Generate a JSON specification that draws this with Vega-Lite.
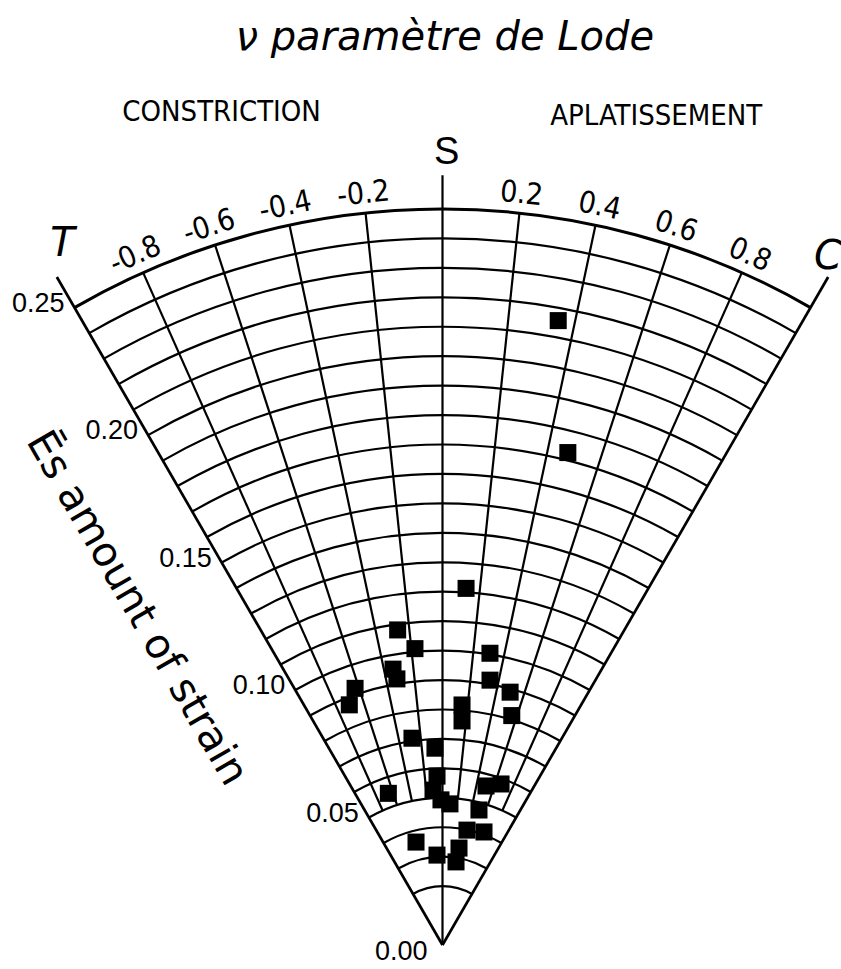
{
  "$schema": "https://vega.github.io/schema/vega-lite/v6.json",
  "width": 841,
  "height": 969,
  "autosize": {"type": "none"},
  "padding": 0,
  "background": "white",
  "config": {"view": {"stroke": null}},
  "datasets": {
    "rings": [
      {"r": 0.02, "nu0": -1, "nu1": 1}, {"r": 0.03, "nu0": -1, "nu1": 1}, {"r": 0.04, "nu0": -1, "nu1": 1},
      {"r": 0.05, "nu0": -1, "nu1": 1}, {"r": 0.06, "nu0": -1, "nu1": 1}, {"r": 0.07, "nu0": -1, "nu1": 1},
      {"r": 0.08, "nu0": -1, "nu1": 1}, {"r": 0.09, "nu0": -1, "nu1": 1}, {"r": 0.10, "nu0": -1, "nu1": 1},
      {"r": 0.11, "nu0": -1, "nu1": 1}, {"r": 0.12, "nu0": -1, "nu1": 1}, {"r": 0.13, "nu0": -1, "nu1": 1},
      {"r": 0.14, "nu0": -1, "nu1": 1}, {"r": 0.15, "nu0": -1, "nu1": 1}, {"r": 0.16, "nu0": -1, "nu1": 1},
      {"r": 0.17, "nu0": -1, "nu1": 1}, {"r": 0.18, "nu0": -1, "nu1": 1}, {"r": 0.19, "nu0": -1, "nu1": 1},
      {"r": 0.20, "nu0": -1, "nu1": 1}, {"r": 0.21, "nu0": -1, "nu1": 1}, {"r": 0.22, "nu0": -1, "nu1": 1},
      {"r": 0.23, "nu0": -1, "nu1": 1}, {"r": 0.24, "nu0": -1, "nu1": 1}, {"r": 0.25, "nu0": -1, "nu1": 1}
    ],
    "spokes": [
      {"nu": -1, "r0": 0, "r1": 0.262},
      {"nu": -0.8, "r0": 0.05, "r1": 0.25},
      {"nu": -0.6, "r0": 0.05, "r1": 0.25},
      {"nu": -0.4, "r0": 0.05, "r1": 0.25},
      {"nu": -0.2, "r0": 0.05, "r1": 0.25},
      {"nu": 0, "r0": 0, "r1": 0.2615},
      {"nu": 0.2, "r0": 0.05, "r1": 0.25},
      {"nu": 0.4, "r0": 0.05, "r1": 0.25},
      {"nu": 0.6, "r0": 0.05, "r1": 0.25},
      {"nu": 0.8, "r0": 0.05, "r1": 0.25},
      {"nu": 1, "r0": 0, "r1": 0.262}
    ],
    "points": [
      {"nu": 0.350, "es": 0.2157}, {"nu": 0.476, "es": 0.1726}, {"nu": 0.126, "es": 0.1214},
      {"nu": -0.270, "es": 0.1081}, {"nu": -0.177, "es": 0.1011}, {"nu": 0.308, "es": 0.1004},
      {"nu": -0.339, "es": 0.0952}, {"nu": -0.324, "es": 0.0917}, {"nu": 0.339, "es": 0.0914},
      {"nu": -0.627, "es": 0.0921}, {"nu": -0.707, "es": 0.0875}, {"nu": 0.499, "es": 0.0889},
      {"nu": 0.560, "es": 0.0814}, {"nu": 0.155, "es": 0.0818}, {"nu": 0.166, "es": 0.0764},
      {"nu": -0.280, "es": 0.0710}, {"nu": -0.073, "es": 0.0669}, {"nu": -0.655, "es": 0.0547},
      {"nu": -0.062, "es": 0.0574}, {"nu": -0.117, "es": 0.0527}, {"nu": -0.020, "es": 0.0493},
      {"nu": 0.101, "es": 0.0480}, {"nu": 0.510, "es": 0.0560}, {"nu": 0.666, "es": 0.0582},
      {"nu": 0.504, "es": 0.0475}, {"nu": 0.401, "es": 0.0399}, {"nu": 0.672, "es": 0.0409},
      {"nu": -0.481, "es": 0.0361}, {"nu": -0.117, "es": 0.0306}, {"nu": 0.308, "es": 0.0286},
      {"nu": 0.322, "es": 0.0334}
    ],
    "nuLabels": [
      {"nu": -0.8, "r": 0.2565, "label": "-0.8"}, {"nu": -0.6, "r": 0.2565, "label": "-0.6"},
      {"nu": -0.4, "r": 0.2565, "label": "-0.4"}, {"nu": -0.2, "r": 0.2565, "label": "-0.2"},
      {"nu": 0.2, "r": 0.2565, "label": "0.2"}, {"nu": 0.4, "r": 0.2565, "label": "0.4"},
      {"nu": 0.6, "r": 0.2565, "label": "0.6"}, {"nu": 0.8, "r": 0.2565, "label": "0.8"}
    ],
    "rLabels": [
      {"nu": -1, "r": 0.25, "label": "0.25"}, {"nu": -1, "r": 0.20, "label": "0.20"},
      {"nu": -1, "r": 0.15, "label": "0.15"}, {"nu": -1, "r": 0.10, "label": "0.10"},
      {"nu": -1, "r": 0.05, "label": "0.05"}
    ],
    "zeroLabel": [{"nu": 0, "r": 0, "label": "0.00"}],
    "titleText": [{"nu": 0.005, "r": 0.3081, "label": "ν paramètre de Lode"}],
    "regimes": [
      {"nu": -0.495, "r": 0.2928, "label": "CONSTRICTION"},
      {"nu": 0.482, "r": 0.2908, "label": "APLATISSEMENT"}
    ],
    "sLabel": [{"nu": 0.01, "r": 0.269, "label": "S"}],
    "ends": [
      {"nu": -0.949, "r": 0.2708, "label": "T"},
      {"nu": 0.975, "r": 0.268, "label": "C"}
    ],
    "strainTitle": [{"nu": -1.41, "r": 0.1545, "label": "Ēs amount of strain"}]
  },
  "layer": [
    {
      "data": {"name": "rings"},
      "mark": {"type": "arc", "filled": false, "stroke": "black"},
      "encoding": {
        "x": {"datum": 0, "type": "quantitative", "scale": {"domain": [-0.150306, 0.13536], "nice": false, "zero": false}, "axis": null},
        "y": {"datum": 0, "type": "quantitative", "scale": {"domain": [-0.008152, 0.320992], "nice": false, "zero": false}, "axis": null},
        "theta": {"field": "nu0", "type": "quantitative", "stack": null, "scale": {"domain": [-1, 1], "range": [-0.5235988, 0.5235988]}},
        "theta2": {"field": "nu1"},
        "radius": {"field": "r", "type": "quantitative", "stack": null, "scale": {"type": "linear", "domain": [0, 0.25], "range": [0, 736], "zero": false, "nice": false}},
        "radius2": {"field": "r"},
        "strokeWidth": {"condition": {"test": "datum.r > 0.249", "value": 3}, "value": 2.2}
      }
    },
    {
      "data": {"name": "spokes"},
      "transform": [
        {"calculate": "datum.r0 * sin(datum.nu * PI / 6)", "as": "xa"},
        {"calculate": "datum.r0 * cos(datum.nu * PI / 6)", "as": "ya"},
        {"calculate": "datum.r1 * sin(datum.nu * PI / 6)", "as": "xb"},
        {"calculate": "datum.r1 * cos(datum.nu * PI / 6)", "as": "yb"}
      ],
      "mark": {"type": "rule", "color": "black"},
      "encoding": {
        "x": {"field": "xa", "type": "quantitative", "scale": {"domain": [-0.150306, 0.13536], "nice": false, "zero": false}, "axis": null},
        "y": {"field": "ya", "type": "quantitative", "scale": {"domain": [-0.008152, 0.320992], "nice": false, "zero": false}, "axis": null},
        "x2": {"field": "xb"},
        "y2": {"field": "yb"},
        "strokeWidth": {"condition": {"test": "abs(datum.nu) == 1", "value": 2.7}, "value": 2.2}
      }
    },
    {
      "data": {"name": "points"},
      "transform": [
        {"calculate": "datum.es * sin(datum.nu * PI / 6)", "as": "px"},
        {"calculate": "datum.es * cos(datum.nu * PI / 6)", "as": "py"}
      ],
      "mark": {"type": "square", "filled": true, "color": "black", "opacity": 1, "size": 290},
      "encoding": {
        "x": {"field": "px", "type": "quantitative", "scale": {"domain": [-0.150306, 0.13536], "nice": false, "zero": false}, "axis": null},
        "y": {"field": "py", "type": "quantitative", "scale": {"domain": [-0.008152, 0.320992], "nice": false, "zero": false}, "axis": null}
      }
    },
    {
      "data": {"name": "nuLabels"},
      "mark": {"type": "text", "font": "Liberation Sans Narrow, DejaVu Sans Condensed, Liberation Sans, sans-serif", "fontSize": 30, "align": "center", "baseline": "middle", "color": "black"},
      "encoding": {
        "x": {"datum": 0, "type": "quantitative", "scale": {"domain": [-0.150306, 0.13536], "nice": false, "zero": false}, "axis": null},
        "y": {"datum": 0, "type": "quantitative", "scale": {"domain": [-0.008152, 0.320992], "nice": false, "zero": false}, "axis": null},
        "theta": {"field": "nu", "type": "quantitative", "stack": null, "scale": {"domain": [-1, 1], "range": [-0.5235988, 0.5235988]}},
        "radius": {"field": "r", "type": "quantitative", "stack": null, "scale": {"type": "linear", "domain": [0, 0.25], "range": [0, 736], "zero": false, "nice": false}},
        "angle": {"field": "nu", "type": "quantitative", "scale": {"domain": [-1, 1], "range": [-30, 30]}, "legend": null},
        "text": {"field": "label"}
      }
    },
    {
      "data": {"name": "rLabels"},
      "mark": {"type": "text", "font": "Liberation Sans, sans-serif", "fontSize": 27, "align": "right", "baseline": "middle", "dx": -10, "dy": -4, "color": "black"},
      "encoding": {
        "x": {"datum": 0, "type": "quantitative", "scale": {"domain": [-0.150306, 0.13536], "nice": false, "zero": false}, "axis": null},
        "y": {"datum": 0, "type": "quantitative", "scale": {"domain": [-0.008152, 0.320992], "nice": false, "zero": false}, "axis": null},
        "theta": {"field": "nu", "type": "quantitative", "stack": null, "scale": {"domain": [-1, 1], "range": [-0.5235988, 0.5235988]}},
        "radius": {"field": "r", "type": "quantitative", "stack": null, "scale": {"type": "linear", "domain": [0, 0.25], "range": [0, 736], "zero": false, "nice": false}},
        "text": {"field": "label"}
      }
    },
    {
      "data": {"name": "zeroLabel"},
      "mark": {"type": "text", "font": "Liberation Sans, sans-serif", "fontSize": 27, "align": "right", "baseline": "middle", "dx": -15, "dy": 7, "color": "black"},
      "encoding": {
        "x": {"datum": 0, "type": "quantitative", "scale": {"domain": [-0.150306, 0.13536], "nice": false, "zero": false}, "axis": null},
        "y": {"datum": 0, "type": "quantitative", "scale": {"domain": [-0.008152, 0.320992], "nice": false, "zero": false}, "axis": null},
        "theta": {"field": "nu", "type": "quantitative", "stack": null, "scale": {"domain": [-1, 1], "range": [-0.5235988, 0.5235988]}},
        "radius": {"field": "r", "type": "quantitative", "stack": null, "scale": {"type": "linear", "domain": [0, 0.25], "range": [0, 736], "zero": false, "nice": false}},
        "text": {"field": "label"}
      }
    },
    {
      "data": {"name": "titleText"},
      "mark": {"type": "text", "font": "DejaVu Sans, sans-serif", "fontStyle": "italic", "fontSize": 40, "align": "center", "baseline": "middle", "color": "black"},
      "encoding": {
        "x": {"datum": 0, "type": "quantitative", "scale": {"domain": [-0.150306, 0.13536], "nice": false, "zero": false}, "axis": null},
        "y": {"datum": 0, "type": "quantitative", "scale": {"domain": [-0.008152, 0.320992], "nice": false, "zero": false}, "axis": null},
        "theta": {"field": "nu", "type": "quantitative", "stack": null, "scale": {"domain": [-1, 1], "range": [-0.5235988, 0.5235988]}},
        "radius": {"field": "r", "type": "quantitative", "stack": null, "scale": {"type": "linear", "domain": [0, 0.25], "range": [0, 736], "zero": false, "nice": false}},
        "text": {"field": "label"}
      }
    },
    {
      "data": {"name": "regimes"},
      "mark": {"type": "text", "font": "Liberation Sans Narrow, DejaVu Sans Condensed, Liberation Sans, sans-serif", "fontSize": 29, "align": "center", "baseline": "middle", "color": "black"},
      "encoding": {
        "x": {"datum": 0, "type": "quantitative", "scale": {"domain": [-0.150306, 0.13536], "nice": false, "zero": false}, "axis": null},
        "y": {"datum": 0, "type": "quantitative", "scale": {"domain": [-0.008152, 0.320992], "nice": false, "zero": false}, "axis": null},
        "theta": {"field": "nu", "type": "quantitative", "stack": null, "scale": {"domain": [-1, 1], "range": [-0.5235988, 0.5235988]}},
        "radius": {"field": "r", "type": "quantitative", "stack": null, "scale": {"type": "linear", "domain": [0, 0.25], "range": [0, 736], "zero": false, "nice": false}},
        "text": {"field": "label"}
      }
    },
    {
      "data": {"name": "sLabel"},
      "mark": {"type": "text", "font": "Liberation Sans, sans-serif", "fontSize": 38, "align": "center", "baseline": "middle", "color": "black"},
      "encoding": {
        "x": {"datum": 0, "type": "quantitative", "scale": {"domain": [-0.150306, 0.13536], "nice": false, "zero": false}, "axis": null},
        "y": {"datum": 0, "type": "quantitative", "scale": {"domain": [-0.008152, 0.320992], "nice": false, "zero": false}, "axis": null},
        "theta": {"field": "nu", "type": "quantitative", "stack": null, "scale": {"domain": [-1, 1], "range": [-0.5235988, 0.5235988]}},
        "radius": {"field": "r", "type": "quantitative", "stack": null, "scale": {"type": "linear", "domain": [0, 0.25], "range": [0, 736], "zero": false, "nice": false}},
        "text": {"field": "label"}
      }
    },
    {
      "data": {"name": "ends"},
      "mark": {"type": "text", "font": "DejaVu Sans, sans-serif", "fontStyle": "italic", "fontSize": 40, "align": "center", "baseline": "middle", "color": "black"},
      "encoding": {
        "x": {"datum": 0, "type": "quantitative", "scale": {"domain": [-0.150306, 0.13536], "nice": false, "zero": false}, "axis": null},
        "y": {"datum": 0, "type": "quantitative", "scale": {"domain": [-0.008152, 0.320992], "nice": false, "zero": false}, "axis": null},
        "theta": {"field": "nu", "type": "quantitative", "stack": null, "scale": {"domain": [-1, 1], "range": [-0.5235988, 0.5235988]}},
        "radius": {"field": "r", "type": "quantitative", "stack": null, "scale": {"type": "linear", "domain": [0, 0.25], "range": [0, 736], "zero": false, "nice": false}},
        "text": {"field": "label"}
      }
    },
    {
      "data": {"name": "strainTitle"},
      "mark": {"type": "text", "font": "DejaVu Sans, sans-serif", "fontSize": 41, "align": "center", "baseline": "middle", "angle": 60, "color": "black"},
      "encoding": {
        "x": {"datum": 0, "type": "quantitative", "scale": {"domain": [-0.150306, 0.13536], "nice": false, "zero": false}, "axis": null},
        "y": {"datum": 0, "type": "quantitative", "scale": {"domain": [-0.008152, 0.320992], "nice": false, "zero": false}, "axis": null},
        "theta": {"field": "nu", "type": "quantitative", "stack": null, "scale": {"domain": [-1, 1], "range": [-0.5235988, 0.5235988]}},
        "radius": {"field": "r", "type": "quantitative", "stack": null, "scale": {"type": "linear", "domain": [0, 0.25], "range": [0, 736], "zero": false, "nice": false}},
        "text": {"field": "label"}
      }
    }
  ]
}
